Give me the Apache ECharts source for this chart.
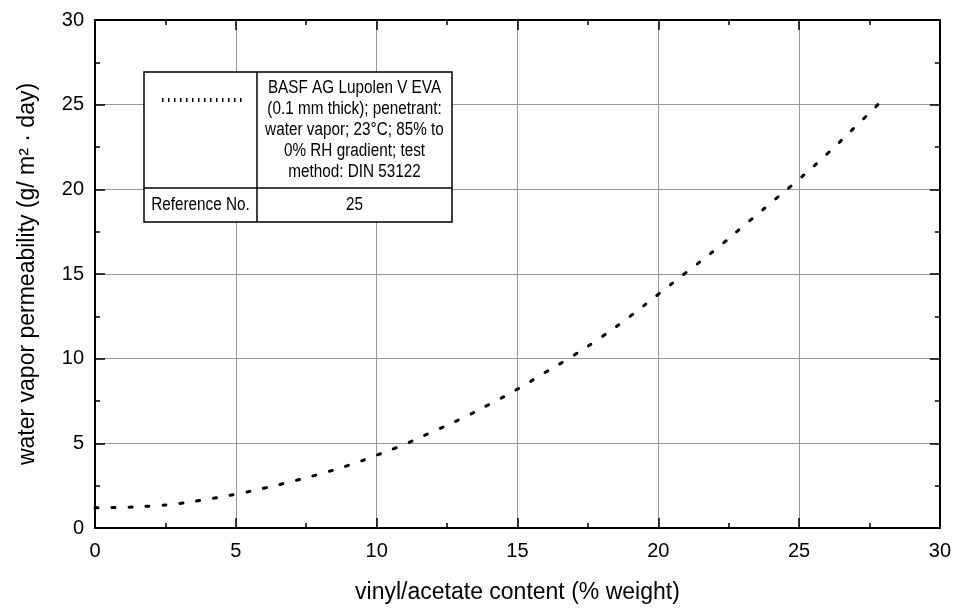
<!DOCTYPE html>
<html>
<head>
<meta charset="utf-8">
<script src="https://cdn.jsdelivr.net/npm/echarts@6/dist/echarts.min.js"></script>
<style>
html,body{margin:0;padding:0;background:#fff;}
#chart{width:954px;height:609px;}
</style>
</head>
<body>
<div id="chart"></div>
<script>
// Data
var vaContent = [0, 1, 2, 3, 4, 5, 6, 7, 8, 9, 10, 11, 12, 13, 14, 15, 16, 17, 18, 19, 20, 21, 22, 23, 24, 25, 26, 27, 27.8];
var permeability = [1.2, 1.22, 1.3, 1.45, 1.7, 2.0, 2.35, 2.75, 3.2, 3.7, 4.3, 4.95, 5.7, 6.45, 7.3, 8.2, 9.2, 10.2, 11.3, 12.5, 13.8, 15.1, 16.4, 17.8, 19.2, 20.6, 22.1, 23.7, 25.0];
var xTicks = [0, 5, 10, 15, 20, 25, 30];
var yTicks = [0, 5, 10, 15, 20, 25, 30];
var legendLines = ['BASF AG Lupolen V EVA', '(0.1 mm thick); penetrant:', 'water vapor; 23\u00B0C; 85% to', '0% RH gradient; test', 'method: DIN 53122'];
var refLabel = 'Reference No.';
var refNo = '25';

var pts = vaContent.map(function (x, i) { return [x, permeability[i]]; });
var FONT = "'Liberation Sans', Arial, Helvetica, sans-serif";

function axisCommon(showLabels, pos, margin) {
  return {
    type: 'value', min: xTicks[0], max: xTicks[xTicks.length - 1], interval: 5,
    position: pos,
    axisLine: { show: true, onZero: false, lineStyle: { color: '#000', width: 2 } },
    axisTick: { show: true, inside: true, length: 10, lineStyle: { color: '#000', width: 1.5 } },
    minorTick: { show: true, splitNumber: 2, length: 5, lineStyle: { color: '#000', width: 1.5 } },
    axisLabel: { show: showLabels, margin: margin || 11, fontSize: 20, color: '#000', fontFamily: FONT },
    splitLine: { show: showLabels, lineStyle: { color: '#999', width: 1 } },
    minorSplitLine: { show: false }
  };
}

var chart = echarts.init(document.getElementById('chart'));
var xb = axisCommon(true, 'bottom', 13);
xb.name = 'vinyl/acetate content (% weight)';
xb.nameLocation = 'middle';
xb.nameGap = 53;
xb.nameTextStyle = { fontSize: 23, color: '#000', fontFamily: FONT };
var xt = axisCommon(false, 'top');
var yl = axisCommon(true, 'left', 11);
yl.min = yTicks[0]; yl.max = yTicks[yTicks.length - 1];
yl.name = 'water vapor permeability (g/ m\u00B2 \u00B7 day)';
yl.nameLocation = 'middle';
yl.nameGap = 56;
yl.nameTextStyle = { fontSize: 23, color: '#000', fontFamily: FONT };
var yr = axisCommon(false, 'right');
yr.min = yTicks[0]; yr.max = yTicks[yTicks.length - 1];

var legX0 = 144, legX1 = 452, legXm = 257, legY0 = 72, legY1 = 222, legYm = 188;
var narrow = 0.85;

chart.setOption({
  backgroundColor: '#fff',
  animation: false,
  grid: { left: 95, right: 14, top: 20, bottom: 80 },
  xAxis: [xb, xt],
  yAxis: [yl, yr],
  series: [{
    type: 'line', data: pts, xAxisIndex: 0, yAxisIndex: 0,
    smooth: true, showSymbol: false, symbol: 'none',
    lineStyle: { color: '#000', width: 3, type: [3, 14], cap: 'round' }
  }],
  graphic: [
    { type: 'rect', z: 100, shape: { x: legX0, y: legY0, width: legX1 - legX0, height: legY1 - legY0 },
      style: { fill: '#fff', stroke: '#000', lineWidth: 1.5 } },
    { type: 'line', z: 101, shape: { x1: legXm, y1: legY0, x2: legXm, y2: legY1 }, style: { stroke: '#000', lineWidth: 1.5 } },
    { type: 'line', z: 101, shape: { x1: legX0, y1: legYm, x2: legX1, y2: legYm }, style: { stroke: '#000', lineWidth: 1.5 } },
    { type: 'line', z: 101, shape: { x1: 162, y1: 100, x2: 246, y2: 100 }, style: { stroke: '#000', lineWidth: 4, lineDash: [1.5, 4.5] } },
    { type: 'text', z: 101, x: (legXm + legX1) / 2, y: 130, scaleX: narrow,
      style: { text: legendLines.join('\n'), x: 0, y: 0, textAlign: 'center', textVerticalAlign: 'middle',
      font: '18px ' + FONT, lineHeight: 21, fill: '#000' } },
    { type: 'text', z: 101, x: (legX0 + legXm) / 2, y: 205, scaleX: narrow,
      style: { text: refLabel, x: 0, y: 0, textAlign: 'center', textVerticalAlign: 'middle',
      font: '18px ' + FONT, fill: '#000' } },
    { type: 'text', z: 101, x: (legXm + legX1) / 2, y: 205, scaleX: narrow,
      style: { text: refNo, x: 0, y: 0, textAlign: 'center', textVerticalAlign: 'middle',
      font: '18px ' + FONT, fill: '#000' } }
  ]
});
</script>
</body>
</html>
